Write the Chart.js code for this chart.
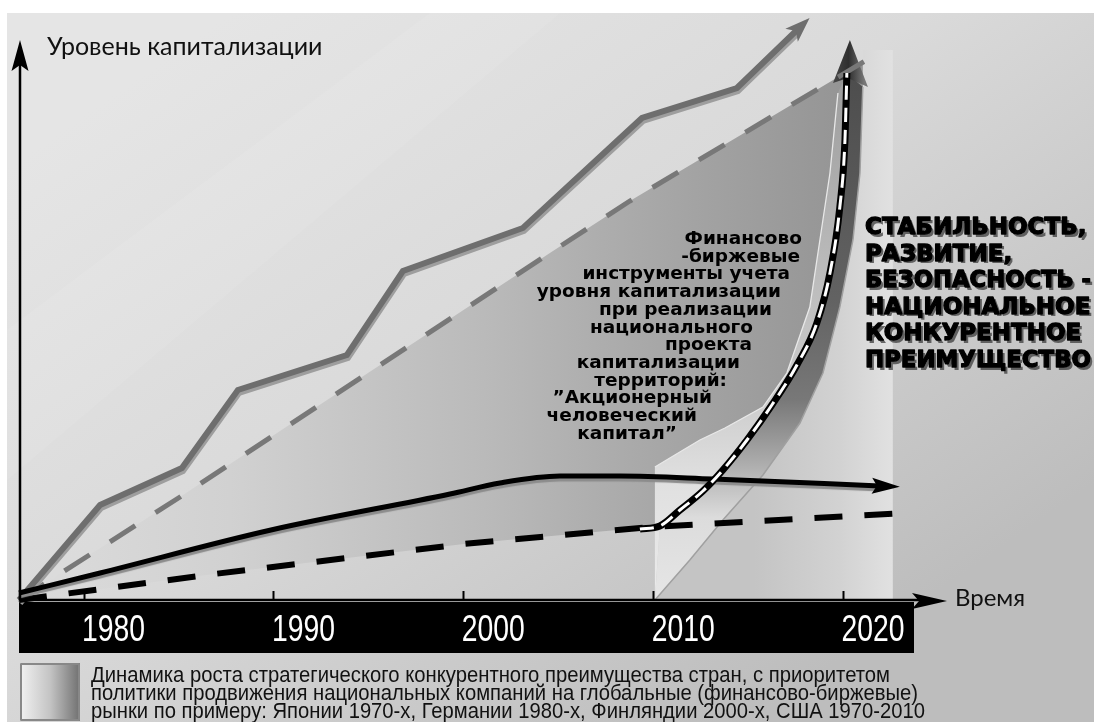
<!DOCTYPE html>
<html><head><meta charset="utf-8">
<script src="https://cdn.jsdelivr.net/npm/chart.js@4.4.1/dist/chart.umd.min.js"></script>
<style>html,body{margin:0;padding:0;background:#fff;}#wrap{width:1094px;height:722px;position:relative;}</style>
</head><body><div id="wrap"><canvas id="c"></canvas></div>
<script>
// ---- data (x = year, y = capitalization level, arbitrary units) ----
const tickYears = [1980, 1990, 2000, 2010, 2020];
const leaderYears  = [1976.6, 1980.87, 1985.18, 1988.13, 1993.87, 1996.82, 2003.14, 2009.41, 2014.41, 2017.63];
const leaderLevels = [0, 9.5, 13.2, 21, 24.5, 32.9, 37.2, 48.2, 51.2, 57.1];
const trendYears  = [1976.6, 1985.08, 2004.56, 2008.77, 2021.25];
const trendLevels = [0, 10.3, 34.7, 39.9, 54];
const nationalYears  = [1976.6, 1980.87, 1989.87, 1999.3, 2001.93, 2005.09, 2008.25, 2013.15, 2021.94];
const nationalLevels = [0.7, 2.7, 7, 10.6, 11.7, 12.4, 12.4, 12.1, 11.4];
const baseYears  = [1976.6, 1986.87, 2000.03, 2009.83, 2023.36];
const baseLevels = [0, 2.6, 5.6, 7.3, 8.7];
const breakYears  = [2009.3, 2010.35, 2011.41, 2012.62, 2013.67, 2014.94, 2016.25, 2017.57, 2018.62, 2019.31, 2019.83, 2020.1, 2020.2];
const breakLevels = [7.1, 7.4, 9, 10.9, 13, 16, 19.5, 23.5, 27.7, 32.7, 39.3, 46, 52.7];
const bandLeftYears  = [2010.09, 2010.09, 2011.14, 2012.46, 2013.78, 2015.78, 2017.04, 2018.25, 2018.78, 2019.31, 2019.73];
const bandLeftLevels = [0, 13.3, 14.5, 16, 17.2, 19.3, 22.7, 29.3, 36, 42.7, 50.7];
const bandRightYears  = [2021.04, 2020.89, 2020.52, 2019.83, 2018.94, 2017.73, 2015.78, 2013.67, 2011.93, 2010.09];
const bandRightLevels = [51.3, 42.7, 36, 29.3, 22.7, 17.7, 12.5, 8, 4, 0];
const headYears  = [2020.36, 2019.47, 2020.25, 2021.31];
const headLevels = [56, 51.7, 52.2, 51.3];
const backCornerYears  = [2022.62, 2022.62, 2021.04];
const backCornerLevels = [0, 55, 55];

const yAxisTitle = 'Уровень капитализации';
const xAxisTitle = 'Время';
const noteLines = ['Финансово', '-биржевые', 'инструменты учета', 'уровня капитализации', 'при реализации', 'национального', 'проекта', 'капитализации', 'территорий:', '”Акционерный', 'человеческий', 'капитал”'];
const sloganLines = ['СТАБИЛЬНОСТЬ,', 'РАЗВИТИЕ,', 'БЕЗОПАСНОСТЬ -', 'НАЦИОНАЛЬНОЕ', 'КОНКУРЕНТНОЕ', 'ПРЕИМУЩЕСТВО'];
const legendLines = [
  'Динамика роста стратегического конкурентного преимущества стран, с приоритетом',
  'политики продвижения национальных компаний на глобальные (финансово-биржевые)',
  'рынки по примеру: Японии 1970-х, Германии 1980-х, Финляндии 2000-х, США 1970-2010'
];

// ---- helpers ----
const pts = (xs, ys) => xs.map((x, i) => ({ x, y: ys[i] }));
const rev = arr => arr.slice().reverse();
const bandLeftPart = pts(bandLeftYears.concat(rev(breakYears.slice(1))), bandLeftLevels.concat(rev(breakLevels.slice(1))));
const bandRightPart = pts(breakYears.slice(1).concat(bandRightYears), breakLevels.slice(1).concat(bandRightLevels));
const backPts = pts(bandRightYears.concat(backCornerYears), bandRightLevels.concat(backCornerLevels));

function hGradient(context, stops, f0, f1) {
  const ch = context.chart, a = ch.chartArea;
  if (!a) return stops[0][1];
  const w = a.right - a.left;
  const g = ch.ctx.createLinearGradient(a.left + w * f0, 0, a.left + w * f1, 0);
  stops.forEach(s => g.addColorStop(s[0], s[1]));
  return g;
}
function vGradient(context, stops) {
  const ch = context.chart, a = ch.chartArea;
  if (!a) return stops[0][1];
  const g = ch.ctx.createLinearGradient(0, a.top, 0, a.bottom);
  stops.forEach(s => g.addColorStop(s[0], s[1]));
  return g;
}
const mainFill = c => hGradient(c, [[0, '#dcdcdc'], [0.25, '#d1d1d1'], [0.55, '#bababa'], [0.8, '#a3a3a3'], [1, '#939393']], 0, 0.92);
const backFill = c => hGradient(c, [[0, '#c4c4c4'], [0.6, '#d2d2d2'], [1, '#e2e2e2']], 0.80, 0.955);
const bandLightFill = c => vGradient(c, [[0.085, '#9a9a9a'], [0.41, '#b8b8b8'], [0.66, '#cdcdcd'], [0.8, '#e0e0e0'], [1, '#ebebeb']]);
const bandDarkFill = c => vGradient(c, [[0.085, '#4c4c4c'], [0.49, '#626262'], [0.66, '#787878'], [0.76, '#a8a8a8'], [0.86, '#dcdcdc'], [1, '#e6e6e6']]);
const headFill = c => hGradient(c, [[0, '#4a4a4a'], [0.5, '#2e2e2e'], [1, '#777']], 0.885, 0.92);

function drawHead(ctx, x0, y0, x1, y1, len, half, notch, color) {
  const a = Math.atan2(y1 - y0, x1 - x0);
  ctx.save();
  ctx.translate(x1, y1); ctx.rotate(a);
  const back = notch + 3;
  ctx.beginPath();
  ctx.moveTo(len, 0); ctx.lineTo(-back, -half); ctx.lineTo(-back + notch, 0); ctx.lineTo(-back, half);
  ctx.closePath(); ctx.fillStyle = color; ctx.fill();
  ctx.restore();
}

const bgPlugin = {
  id: 'bg',
  beforeDraw(chart) {
    const ctx = chart.ctx, a = chart.chartArea;
    ctx.save();
    ctx.fillStyle = '#fff'; ctx.fillRect(0, 0, chart.width, chart.height);
    const g = ctx.createLinearGradient(250, 0, 750, chart.height);
    g.addColorStop(0, '#e5e5e5'); g.addColorStop(0.45, '#dadada'); g.addColorStop(1, '#bdbdbd');
    ctx.fillStyle = g; ctx.fillRect(7, 13, chart.width - 7, chart.height - 13);
    ctx.globalAlpha = 0.07; ctx.fillStyle = '#fff';
    ctx.beginPath(); ctx.moveTo(7, 330); ctx.lineTo(7, 480); ctx.lineTo(560, 13); ctx.lineTo(430, 13); ctx.closePath(); ctx.fill();
    ctx.globalAlpha = 1;
    ctx.fillStyle = '#000';
    ctx.fillRect(a.left, a.bottom + 2, a.right - a.left - 24, 51);
    ctx.restore();
  }
};

const shadowPlugin = {
  id: 'shadow',
  beforeDatasetDraw(chart, args) {
    const s = chart.data.datasets[args.index].shadow;
    if (!s) return;
    const ctx = chart.ctx; ctx.save();
    ctx.shadowColor = s.color; ctx.shadowOffsetX = s.dx; ctx.shadowOffsetY = s.dy; ctx.shadowBlur = s.blur || 0;
  },
  afterDatasetDraw(chart, args) {
    if (chart.data.datasets[args.index].shadow) chart.ctx.restore();
  }
};

const axesPlugin = {
  id: 'axes',
  afterDatasetsDraw(chart) {
    const ctx = chart.ctx, a = chart.chartArea, xs = chart.scales.x;
    ctx.save();
    chart.data.datasets.forEach((ds, i) => {
      if (!ds.arrow) return;
      const p = chart.getDatasetMeta(i).data, n = p.length;
      drawHead(ctx, p[n - 2].x, p[n - 2].y, p[n - 1].x, p[n - 1].y, ds.arrow.len, ds.arrow.half, ds.arrow.notch, ds.arrow.color);
    });
    ctx.strokeStyle = '#000'; ctx.lineWidth = 2.5; ctx.lineCap = 'butt';
    const x0 = a.left + 1, y0 = a.bottom;
    ctx.beginPath(); ctx.moveTo(x0, y0); ctx.lineTo(x0, a.top + 48); ctx.stroke();
    drawHead(ctx, x0, y0, x0, a.top + 52, 22, 8.5, 6, '#000');
    ctx.beginPath(); ctx.moveTo(x0, y0); ctx.lineTo(a.right - 12, y0); ctx.stroke();
    drawHead(ctx, x0, y0, a.right - 16, y0 + 1, 25, 8, 7, '#000');
    ctx.lineWidth = 2;
    tickYears.forEach(t => {
      const px = Math.round(xs.getPixelForValue(t)) + 0.5;
      ctx.beginPath(); ctx.moveTo(px, y0); ctx.lineTo(px, y0 - 9); ctx.stroke();
    });
    ctx.restore();
  }
};

const textPlugin = {
  id: 'texts',
  afterDraw(chart) {
    const ctx = chart.ctx, xs = chart.scales.x, a = chart.chartArea;
    ctx.save();
    ctx.fillStyle = '#fff';
    ctx.font = '37px "Liberation Sans", Arial, sans-serif';
    ctx.textAlign = 'center'; ctx.textBaseline = 'alphabetic';
    xs.ticks.forEach(t => {
      ctx.fillText(String(t.label), xs.getPixelForValue(t.value) + 30, a.bottom + 41, 63);
    });

    ctx.fillStyle = '#111';
    ctx.font = '25px Lato, "Open Sans", sans-serif';
    ctx.textAlign = 'left';
    ctx.fillText(yAxisTitle, 47, 55);
    ctx.font = '24px Lato, "Open Sans", sans-serif';
    ctx.fillText(xAxisTitle, 955, 606);

    const noteRight = [802, 800, 790, 781, 772, 753, 752, 740, 727, 712, 697, 677];
    ctx.font = 'bold 18.5px "DejaVu Sans", sans-serif';
    ctx.textAlign = 'right';
    ctx.fillStyle = '#000';
    noteLines.forEach((t, i) => ctx.fillText(t, noteRight[i], 244 + i * 17.7));

    ctx.font = 'bold 23px "DejaVu Sans", sans-serif';
    ctx.textAlign = 'left';
    ctx.lineJoin = 'round';
    sloganLines.forEach((t, i) => {
      const y = 234 + i * 26.6;
      ctx.fillStyle = 'rgba(60,60,60,0.75)';
      ctx.fillText(t, 867.5, y + 2.5, 226);
      ctx.fillStyle = '#000'; ctx.strokeStyle = '#000'; ctx.lineWidth = 1.3;
      ctx.strokeText(t, 865, y, 226);
      ctx.fillText(t, 865, y, 226);
    });

    const lg = ctx.createLinearGradient(20, 0, 80, 0);
    lg.addColorStop(0, '#f2f2f2'); lg.addColorStop(0.5, '#c4c4c4'); lg.addColorStop(1, '#707070');
    ctx.fillStyle = lg; ctx.fillRect(20, 663, 60, 58);
    ctx.strokeStyle = '#888'; ctx.lineWidth = 2; ctx.strokeRect(21, 664, 58, 56);
    ctx.fillStyle = '#111';
    ctx.font = '22px "Liberation Sans", Arial, sans-serif';
    const maxW = [799, 827, 834];
    legendLines.forEach((t, i) => ctx.fillText(t, 91, 682 + i * 18, maxW[i]));
    ctx.restore();
  }
};

const line = (data, color, width, extra) => Object.assign({
  data, borderColor: color, borderWidth: width, showLine: true, pointRadius: 0,
  fill: false, tension: 0, clip: false
}, extra || {});

const cfg = {
  type: 'scatter',
  data: {
    datasets: [
      line(pts(breakYears, breakLevels), '#fff', 3, { borderDash: [14, 8], cubicInterpolationMode: 'monotone', order: 1 }),
      line(pts(breakYears, breakLevels), '#000', 7, { cubicInterpolationMode: 'monotone', order: 2 }),
      line(pts(nationalYears, nationalLevels), '#000', 5, { cubicInterpolationMode: 'monotone', order: 3,
        shadow: { color: '#8c8c8c', dx: 0, dy: 3, blur: 1 }, arrow: { len: 20, half: 8, notch: 5, color: '#000' } }),
      line(pts(baseYears, baseLevels), '#000', 6, { borderDash: [28, 22], order: 4 }),
      line(pts(leaderYears, leaderLevels), '#6e6e6e', 6, { order: 5, borderJoinStyle: 'miter',
        shadow: { color: '#9e9e9e', dx: 1, dy: 3, blur: 0 }, arrow: { len: 16, half: 9, notch: 6, color: '#6e6e6e' } }),
      line(pts(trendYears, trendLevels), '#787878', 5, { borderDash: [30, 24], order: 6 }),
      line(pts(headYears, headLevels), 'rgba(0,0,0,0)', 0, { fill: 'shape', backgroundColor: headFill, order: 7 }),
      line(pts(bandRightYears, bandRightLevels), '#a0a0a0', 1.5, { order: 8 }),
      line(pts(bandLeftYears.slice(1), bandLeftLevels.slice(1)), '#e8e8e8', 1.3, { order: 8.5 }),
      line(bandLeftPart, 'rgba(0,0,0,0)', 0, { fill: 'shape', backgroundColor: bandLightFill, order: 9 }),
      line(bandRightPart, 'rgba(0,0,0,0)', 0, { fill: 'shape', backgroundColor: bandDarkFill, order: 9.5 }),
      line(backPts, 'rgba(0,0,0,0)', 0, { fill: 'shape', backgroundColor: backFill, order: 10 }),
      line(pts(trendYears, trendLevels), 'rgba(0,0,0,0)', 0, { fill: 3, backgroundColor: mainFill, order: 11 })
    ]
  },
  options: {
    responsive: true, maintainAspectRatio: false, animation: false,
    layout: { padding: { left: 19, right: 156, top: 10, bottom: 0 } },
    plugins: { legend: { display: false }, tooltip: { enabled: false } },
    events: [],
    scales: {
      x: {
        type: 'linear', min: 1976.6, max: 2025.0,
        afterBuildTicks: s => { s.ticks = tickYears.map(v => ({ value: v })); },
        afterFit: s => { s.height = 122; },
        grid: { display: false, drawTicks: false },
        border: { display: false },
        ticks: { display: false, autoSkip: false, maxRotation: 0, callback: v => String(v) }
      },
      y: { type: 'linear', min: 0, max: 59, display: false }
    }
  },
  plugins: [bgPlugin, shadowPlugin, axesPlugin, textPlugin]
};
new Chart(document.getElementById('c'), cfg);
</script></body></html>
